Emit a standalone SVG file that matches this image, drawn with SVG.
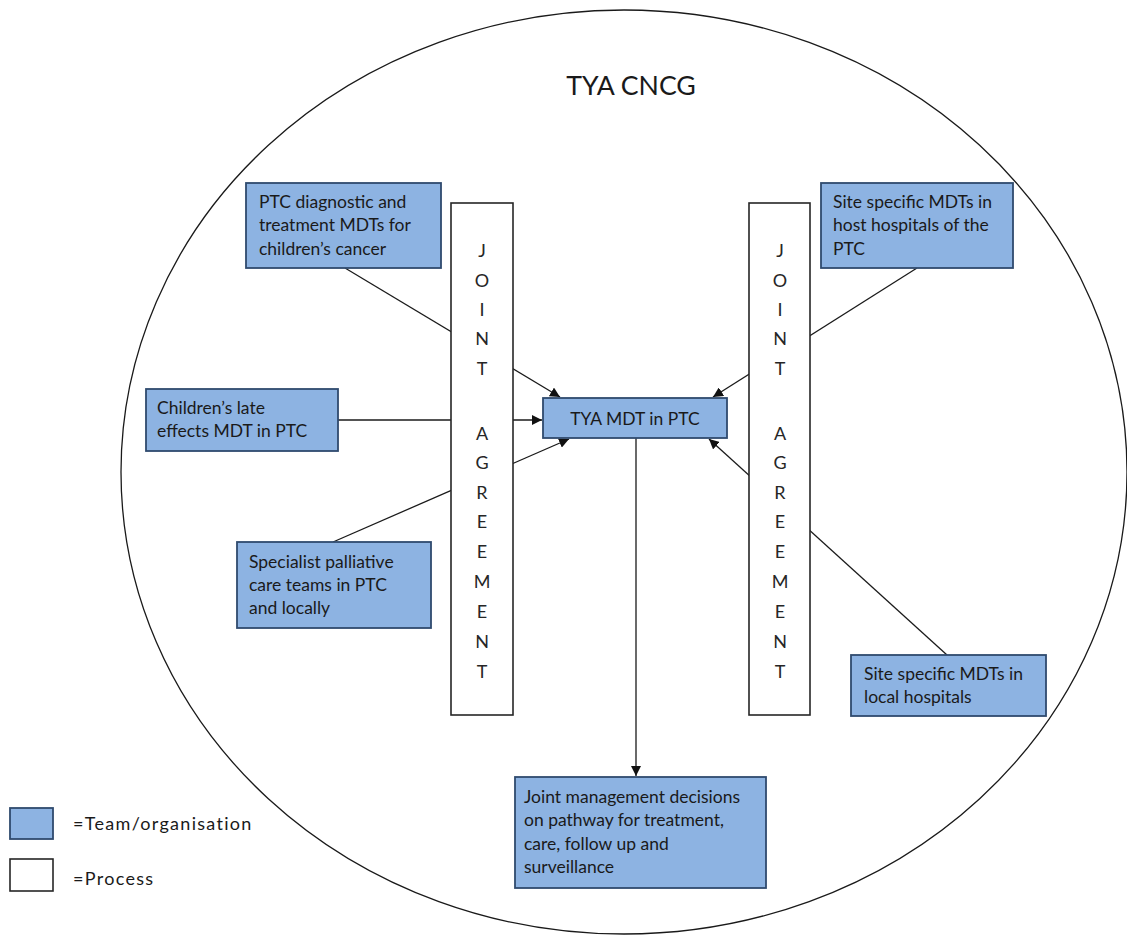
<svg xmlns="http://www.w3.org/2000/svg" width="1127" height="937" viewBox="0 0 1127 937">
<style>
.team{fill:#8DB3E2;stroke:#2F4A6E;stroke-width:1.8}
.proc{fill:#ffffff;stroke:#262626;stroke-width:1.6}
.t{font-family:Lato,"Liberation Sans",sans-serif;font-size:17.5px;fill:#1a1a1a}
.lg{font-family:Lato,"Liberation Sans",sans-serif;font-size:18px;fill:#1a1a1a;letter-spacing:1.3px}
.ja{font-family:Lato,"Liberation Sans",sans-serif;font-size:18px;fill:#262626;text-anchor:middle}
.c{stroke:#1a1a1a;stroke-width:1.3;fill:none}
</style>
<defs>
<marker id="ah" viewBox="0 0 10 10" refX="10" refY="5" markerWidth="10" markerHeight="10" markerUnits="userSpaceOnUse" orient="auto">
<path d="M0,0 L10,5 L0,10 z" fill="#111"/>
</marker>
</defs>
<rect width="1127" height="937" fill="#ffffff"/>
<g id="boundary">
<ellipse cx="624" cy="472" rx="503" ry="462" fill="none" stroke="#1a1a1a" stroke-width="1.3"/>
<text x="631" y="95" text-anchor="middle" font-family="Lato,'Liberation Sans',sans-serif" font-size="26.7" fill="#1a1a1a">TYA CNCG</text>
</g>
<g id="connectors">
<line class="c" x1="345" y1="268" x2="560" y2="397" marker-end="url(#ah)"/>
<line class="c" x1="338" y1="420" x2="542" y2="420" marker-end="url(#ah)"/>
<line class="c" x1="333" y1="542" x2="569" y2="439" marker-end="url(#ah)"/>
<line class="c" x1="917" y1="268" x2="713" y2="397" marker-end="url(#ah)"/>
<line class="c" x1="947" y1="655" x2="709" y2="439" marker-end="url(#ah)"/>
<line class="c" x1="636" y1="438" x2="636" y2="776" marker-end="url(#ah)"/>
</g>
<g id="joint-agreement-left">
<rect class="proc" x="451" y="203" width="62" height="512"/>
<text class="ja" x="482"><tspan x="482" y="257">J</tspan><tspan x="482" y="287">O</tspan><tspan x="482" y="316">I</tspan><tspan x="482" y="345">N</tspan><tspan x="482" y="375">T</tspan><tspan x="482" y="440">A</tspan><tspan x="482" y="469">G</tspan><tspan x="482" y="499">R</tspan><tspan x="482" y="528">E</tspan><tspan x="482" y="558">E</tspan><tspan x="482" y="588">M</tspan><tspan x="482" y="618">E</tspan><tspan x="482" y="648">N</tspan><tspan x="482" y="678">T</tspan></text>
</g>
<g id="joint-agreement-right">
<rect class="proc" x="749" y="203" width="61" height="512"/>
<text class="ja" x="780"><tspan x="780" y="257">J</tspan><tspan x="780" y="287">O</tspan><tspan x="780" y="316">I</tspan><tspan x="780" y="345">N</tspan><tspan x="780" y="375">T</tspan><tspan x="780" y="440">A</tspan><tspan x="780" y="469">G</tspan><tspan x="780" y="499">R</tspan><tspan x="780" y="528">E</tspan><tspan x="780" y="558">E</tspan><tspan x="780" y="588">M</tspan><tspan x="780" y="618">E</tspan><tspan x="780" y="648">N</tspan><tspan x="780" y="678">T</tspan></text>
</g>
<g id="ptc-diagnostic">
<rect class="team" x="246" y="183" width="195" height="85"/>
<text class="t"><tspan x="259" y="208">PTC diagnostic and</tspan><tspan x="259" y="231">treatment MDTs for</tspan><tspan x="259" y="255">children’s cancer</tspan></text>
</g>
<g id="late-effects">
<rect class="team" x="146" y="389" width="192" height="62"/>
<text class="t"><tspan x="157" y="414">Children’s late</tspan><tspan x="157" y="437">effects MDT in PTC</tspan></text>
</g>
<g id="palliative">
<rect class="team" x="237" y="542" width="194" height="86"/>
<text class="t"><tspan x="249" y="568">Specialist palliative</tspan><tspan x="249" y="591">care teams in PTC</tspan><tspan x="249" y="614">and locally</tspan></text>
</g>
<g id="tya-mdt">
<rect class="team" x="543" y="398" width="184" height="40"/>
<text class="t" x="635" y="425" text-anchor="middle">TYA MDT in PTC</text>
</g>
<g id="host-hospitals">
<rect class="team" x="821" y="183" width="192" height="85"/>
<text class="t"><tspan x="833" y="208">Site specific MDTs in</tspan><tspan x="833" y="231">host hospitals of the</tspan><tspan x="833" y="255">PTC</tspan></text>
</g>
<g id="local-hospitals">
<rect class="team" x="851" y="655" width="195" height="61"/>
<text class="t"><tspan x="864" y="680">Site specific MDTs in</tspan><tspan x="864" y="703">local hospitals</tspan></text>
</g>
<g id="joint-management">
<rect class="team" x="515" y="777" width="251" height="111"/>
<text class="t"><tspan x="524" y="803">Joint management decisions</tspan><tspan x="524" y="826">on pathway for treatment,</tspan><tspan x="524" y="850">care, follow up and</tspan><tspan x="524" y="873">surveillance</tspan></text>
</g>
<g id="legend">
<rect class="team" x="10" y="808" width="43" height="31"/>
<text class="lg" x="73" y="830">=Team/organisation</text>
<rect class="proc" x="10" y="859" width="43" height="32"/>
<text class="lg" x="73" y="885">=Process</text>
</g>
</svg>
